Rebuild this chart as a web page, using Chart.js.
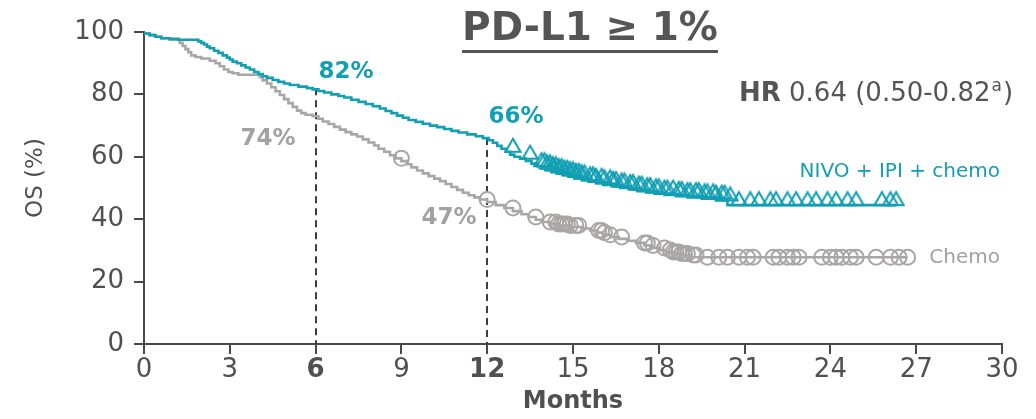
<!DOCTYPE html>
<html>
<head>
<meta charset="utf-8">
<script src="https://cdn.jsdelivr.net/npm/chart.js@4.4.1/dist/chart.umd.min.js"></script>
<style>
  html, body { margin: 0; padding: 0; background: #ffffff; }
  #wrap { width: 1036px; height: 419px; position: relative; }
</style>
</head>
<body>
<div id="wrap"><canvas id="c" width="1036" height="419"></canvas></div>
<script>
// ---------------- DATA ----------------
const xTicks = [0, 3, 6, 9, 12, 15, 18, 21, 24, 27, 30];
const yTicks = [0, 20, 40, 60, 80, 100];
const boldMonths = [6, 12];

// Kaplan–Meier step points: month / OS %
const nivoMonths = [0, 0.2, 0.4, 0.6, 0.9, 1.2, 1.9, 2.0, 2.1, 2.2, 2.3, 2.45, 2.6, 2.75, 2.9, 3.0, 3.1, 3.25, 3.4, 3.55, 3.7, 3.85, 4.0, 4.15, 4.3, 4.5, 4.7, 4.9, 5.1, 5.4, 5.7, 5.9, 6.1, 6.3, 6.55, 6.8, 7.0, 7.25, 7.5, 7.75, 8.0, 8.25, 8.45, 8.65, 8.85, 9.05, 9.25, 9.5, 9.75, 10.0, 10.25, 10.5, 10.75, 11.0, 11.3, 11.6, 11.85, 12.05, 12.2, 12.35, 12.5, 12.65, 12.8, 12.95, 13.15, 13.35, 13.55, 13.75, 13.9, 14.05, 14.25, 14.45, 14.65, 14.85, 15.05, 15.3, 15.55, 15.8, 16.05, 16.35, 16.65, 16.95, 17.25, 17.55, 17.85, 18.2, 18.6, 19.0, 19.5, 20.0, 20.4, 20.6, 26.3];
const nivoOS     = [100, 99.5, 99, 98.5, 98, 97.8, 97.5, 97, 96.5, 96, 95.3, 94.8, 94, 93.3, 92.5, 91.8, 91.2, 90.5, 90, 89.3, 88.6, 88, 87.2, 86.5, 85.8, 85.3, 84.6, 84, 83.5, 83, 82.5, 82, 81.6, 81.1, 80.6, 80, 79.5, 79, 78.3, 77.6, 76.9, 76.2, 75.5, 74.7, 74, 73.2, 72.5, 71.8, 71.2, 70.6, 70, 69.5, 68.9, 68.3, 67.8, 67.2, 66.6, 66, 65.3, 64.5, 63.5, 62.6, 61.6, 60.7, 60, 59.4, 58.7, 57.8, 57, 56.3, 55.7, 55.1, 54.6, 54.1, 53.6, 53.1, 52.5, 52, 51.5, 51, 50.5, 50, 49.5, 49, 48.6, 48.2, 47.8, 47.4, 47, 46.6, 46, 44.5, 44.5];

const chemoMonths = [0, 0.2, 0.4, 0.6, 0.9, 1.25, 1.35, 1.45, 1.55, 1.65, 1.8, 2.0, 2.3, 2.5, 2.65, 2.8, 2.95, 3.1, 3.3, 4.05, 4.15, 4.3, 4.45, 4.6, 4.75, 4.9, 5.05, 5.2, 5.35, 5.5, 5.65, 5.9, 6.1, 6.25, 6.45, 6.65, 6.85, 7.05, 7.25, 7.45, 7.65, 7.85, 8.05, 8.2, 8.4, 8.6, 8.8, 9.0, 9.2, 9.35, 9.55, 9.75, 9.95, 10.15, 10.35, 10.55, 10.75, 10.95, 11.15, 11.35, 11.55, 11.75, 12.0, 12.3, 12.6, 12.9, 13.2, 13.45, 13.7, 13.95, 14.2, 14.5, 14.9, 15.3, 15.6, 15.85, 16.05, 16.3, 16.6, 16.9, 17.2, 17.5, 17.75, 18.0, 18.25, 18.5, 18.8, 19.1, 19.35, 26.7];
const chemoOS     = [100, 99.5, 99, 98.5, 98, 97.5, 96.5, 95.5, 94.5, 93.5, 92.5, 92, 91.5, 90.8, 90, 89, 88, 87.2, 86.8, 86.3, 85.5, 84.5, 83.5, 82.3, 81, 79.8, 78.5, 77.2, 76, 74.8, 74, 73.5, 73, 72.2, 71.3, 70.5, 69.6, 68.7, 67.9, 67.2, 66.5, 65.6, 64.6, 63.6, 62.6, 61.6, 60.5, 59.5, 58.6, 57.6, 56.6, 55.6, 54.7, 53.8, 53, 52.2, 51.3, 50.3, 49.4, 48.5, 47.7, 47, 46.3, 45.5, 44.5, 43.6, 42.6, 41.6, 40.7, 39.8, 39.1, 38.5, 38, 37.5, 37, 36.4, 35.7, 35, 34.3, 33.7, 33.1, 32.4, 31.6, 30.8, 30.1, 29.5, 29, 28.5, 27.8, 27.8];

// Censoring times (months)
const nivoCensor = [12.9, 13.5, 13.9, 14.0, 14.1, 14.2, 14.3, 14.4, 14.5, 14.6, 14.7, 14.8, 14.9, 15.0, 15.1, 15.2, 15.3, 15.4, 15.6, 15.7, 15.8, 16.0, 16.1, 16.3, 16.4, 16.5, 16.7, 16.8, 17.0, 17.1, 17.3, 17.4, 17.6, 17.7, 17.9, 18.0, 18.2, 18.3, 18.5, 18.7, 18.8, 19.0, 19.1, 19.3, 19.4, 19.6, 19.7, 19.9, 20.0, 20.2, 20.3, 20.5, 20.8, 21.2, 21.5, 21.9, 22.1, 22.5, 22.8, 23.2, 23.5, 23.9, 24.2, 24.6, 24.9, 25.8, 26.1, 26.3];
const chemoCensor = [9.0, 12.0, 12.9, 13.7, 14.2, 14.4, 14.5, 14.6, 14.7, 14.8, 14.9, 15.1, 15.2, 15.9, 16.0, 16.1, 16.3, 16.7, 17.5, 17.6, 17.8, 18.2, 18.4, 18.5, 18.6, 18.7, 18.8, 18.9, 19.0, 19.2, 19.3, 19.7, 20.1, 20.4, 20.8, 21.1, 21.3, 22.0, 22.2, 22.5, 22.7, 22.9, 23.7, 24.0, 24.2, 24.4, 24.7, 24.9, 25.6, 26.1, 26.4, 26.7];

// Landmarks
const landmarkMonths = [6, 12];
const nivoLandmark = [82, 66];
const chemoLandmark = [74, 47];

const titleText = 'PD-L1 \u2265 1%';
const hrBold = 'HR';
const hrText = ' 0.64 (0.50-0.82';
const hrSup = 'a';
const nivoName = 'NIVO + IPI + chemo';
const chemoName = 'Chemo';
const xTitle = 'Months';
const yTitle = 'OS (%)';

// ---------------- BUILD ----------------
const TEAL = '#119fb3';
const GREY = '#a9a6a6';
const GREY_TXT = '#a2a2a2';
const DARK = '#505050';
const FONT = '"DejaVu Sans", Verdana, sans-serif';

function toPts(xs, ys) { return xs.map((x, i) => ({ x: x, y: ys[i] })); }
function stepAt(xs, ys, t) {
  let v = ys[0];
  for (let i = 0; i < xs.length; i++) { if (xs[i] <= t) v = ys[i]; else break; }
  return v;
}
const nivoCensorPts = nivoCensor.map(t => ({ x: t, y: stepAt(nivoMonths, nivoOS, t) }));
const chemoCensorPts = chemoCensor.map(t => ({ x: t, y: stepAt(chemoMonths, chemoOS, t) }));

// hollow triangle marker sitting on the curve (base at the point)
function makeTriangle() {
  const w = 18, h = 30, c = document.createElement('canvas');
  c.width = w; c.height = h;
  const g = c.getContext('2d');
  g.strokeStyle = TEAL; g.lineWidth = 2; g.lineJoin = 'miter';
  g.beginPath();
  g.moveTo(w / 2, 2);
  g.lineTo(w - 1.5, h / 2);
  g.lineTo(1.5, h / 2);
  g.closePath();
  g.stroke();
  return c;
}
const triMarker = makeTriangle();

const annot = {
  id: 'annot',
  beforeDatasetsDraw(chart) {
    const { ctx, scales: { x, y } } = chart;
    ctx.save();
    ctx.strokeStyle = '#3c3c3c';
    ctx.lineWidth = 2;
    ctx.setLineDash([7, 5]);
    landmarkMonths.forEach((m, i) => {
      const px = Math.round(x.getPixelForValue(m));
      ctx.beginPath();
      ctx.moveTo(px, y.getPixelForValue(nivoLandmark[i]));
      ctx.lineTo(px, y.getPixelForValue(0));
      ctx.stroke();
    });
    ctx.restore();
  },
  afterDraw(chart) {
    const { ctx } = chart;
    ctx.save();
    ctx.textBaseline = 'middle';
    // Title
    ctx.fillStyle = '#555555';
    ctx.font = 'bold 39px ' + FONT;
    ctx.textAlign = 'center';
    ctx.fillText(titleText, 590, 30);
    const tw = ctx.measureText(titleText).width;
    ctx.fillRect(590 - tw / 2, 50, tw, 3);
    // HR
    ctx.textAlign = 'left';
    ctx.font = 'bold 26px ' + FONT;
    let xx = 739;
    ctx.fillText(hrBold, xx, 94);
    xx += ctx.measureText(hrBold).width;
    ctx.font = '26px ' + FONT;
    ctx.fillText(hrText, xx, 94);
    xx += ctx.measureText(hrText).width;
    ctx.font = '17px ' + FONT;
    ctx.fillText(hrSup, xx + 1, 87);
    xx += ctx.measureText(hrSup).width + 2;
    ctx.font = '26px ' + FONT;
    ctx.fillText(')', xx, 94);
    // landmark labels
    ctx.textAlign = 'center';
    ctx.font = 'bold 23px ' + FONT;
    ctx.fillStyle = TEAL;
    ctx.fillText(nivoLandmark[0] + '%', 346, 72);
    ctx.fillText(nivoLandmark[1] + '%', 516, 117);
    ctx.fillStyle = GREY_TXT;
    ctx.fillText(chemoLandmark[0] + '%', 268, 139);
    ctx.fillText(chemoLandmark[1] + '%', 449, 218);
    // series names
    ctx.textAlign = 'right';
    ctx.font = '20px ' + FONT;
    ctx.fillStyle = TEAL;
    ctx.fillText(nivoName, 1000, 172);
    ctx.fillStyle = GREY_TXT;
    ctx.fillText(chemoName, 1000, 258);
    // axis titles
    ctx.fillStyle = DARK;
    ctx.textAlign = 'center';
    ctx.font = 'bold 24px ' + FONT;
    ctx.fillText(xTitle, 573, 402);
    ctx.translate(36, 178);
    ctx.rotate(-Math.PI / 2);
    ctx.font = '23px ' + FONT;
    ctx.fillText(yTitle, 0, 0);
    ctx.restore();
  }
};

new Chart(document.getElementById('c'), {
  type: 'line',
  data: {
    datasets: [
      { label: nivoName, data: toPts(nivoMonths, nivoOS), stepped: 'after', borderColor: TEAL, borderWidth: 2.6, pointRadius: 0, fill: false, order: 1 },
      { label: nivoName + ' censored', data: nivoCensorPts, showLine: false, pointStyle: triMarker, pointRadius: 8, order: 0 },
      { label: chemoName, data: toPts(chemoMonths, chemoOS), stepped: 'after', borderColor: GREY, borderWidth: 2.6, pointRadius: 0, fill: false, order: 3 },
      { label: chemoName + ' censored', data: chemoCensorPts, showLine: false, pointStyle: 'circle', pointRadius: 7.5, pointBorderWidth: 2, pointBorderColor: GREY, pointBackgroundColor: 'rgba(255,255,255,0)', order: 2 }
    ]
  },
  options: {
    responsive: false,
    animation: false,
    events: [],
    layout: { padding: { left: 0, right: 34, top: 32, bottom: 0 } },
    plugins: { legend: { display: false }, tooltip: { enabled: false } },
    scales: {
      x: {
        type: 'linear', min: 0, max: 30,
        afterBuildTicks: s => { s.ticks = xTicks.map(v => ({ value: v })); },
        afterFit: s => { s.height = 75; },
        ticks: {
          color: DARK, padding: 1,
          font: c => ({ family: FONT, size: 26, weight: boldMonths.includes(c.tick && c.tick.value) ? 'bold' : 'normal' })
        },
        grid: { drawOnChartArea: false, drawTicks: true, tickLength: 10, color: '#4a4a4a', lineWidth: 2 },
        border: { color: '#4a4a4a', width: 2 }
      },
      y: {
        min: 0, max: 100,
        afterBuildTicks: s => { s.ticks = yTicks.map(v => ({ value: v })); },
        afterFit: s => { s.width = 144; },
        ticks: { color: DARK, padding: 10, font: { family: FONT, size: 26 } },
        grid: { drawOnChartArea: false, drawTicks: true, tickLength: 10, color: '#4a4a4a', lineWidth: 2 },
        border: { color: '#4a4a4a', width: 2 }
      }
    }
  },
  plugins: [annot]
});
</script>
</body>
</html>
